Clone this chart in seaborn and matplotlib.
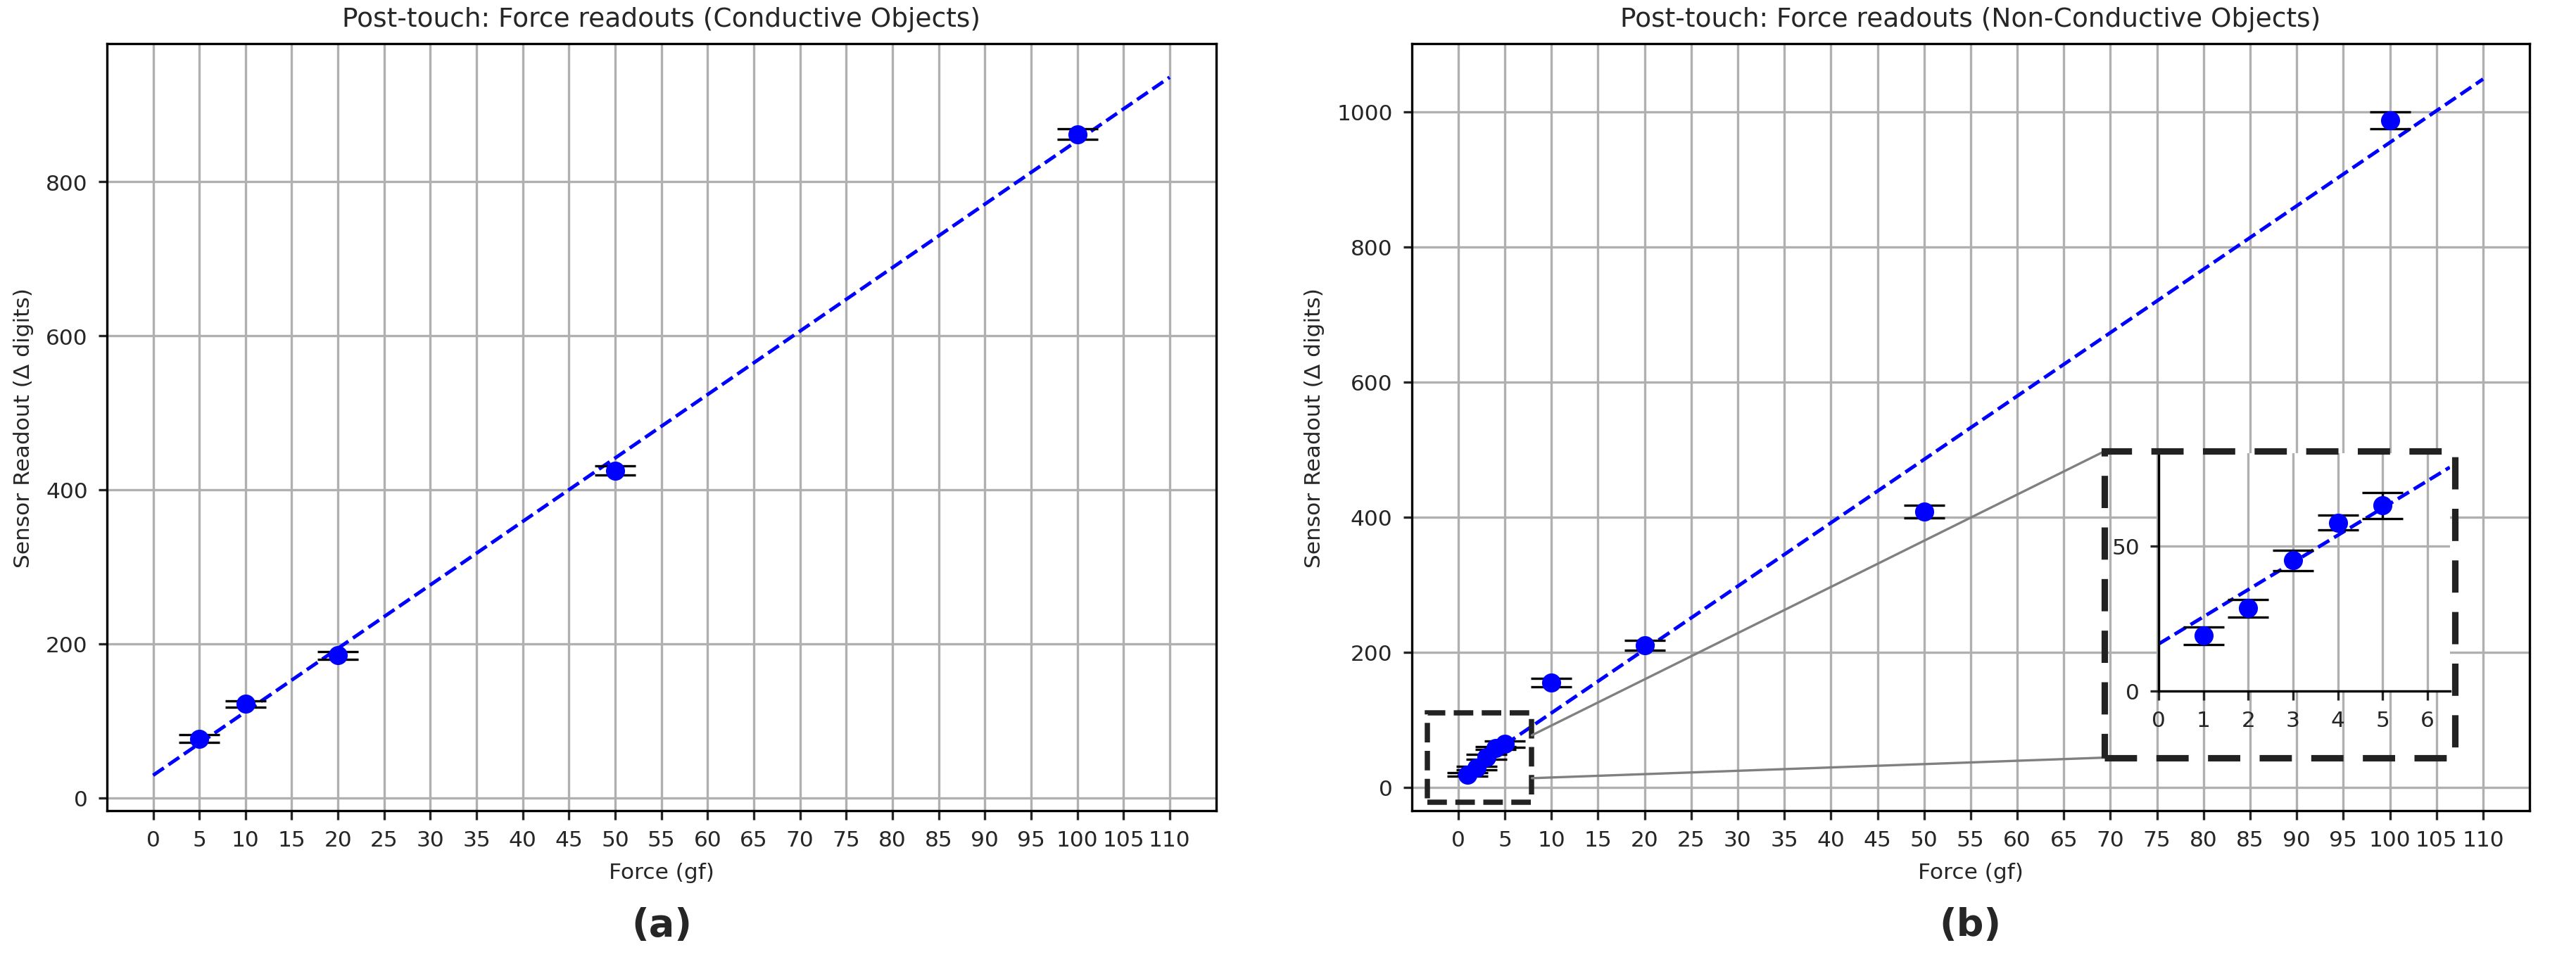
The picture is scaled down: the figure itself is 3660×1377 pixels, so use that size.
import matplotlib
matplotlib.use("Agg")
import matplotlib.pyplot as plt
import matplotlib.patches as mpatches
import matplotlib.lines as mlines
import seaborn as sns
import numpy as np
import pandas as pd

# conductive objects
force_a = [5, 10, 20, 50, 100]
readout_a = [77, 122, 185, 425, 862]
err_a = [5, 4, 5, 6, 7]

# non-conductive objects
force_b = [1, 2, 3, 4, 5, 10, 20, 50, 100]
readout_b = [19, 28.5, 45, 58, 64, 155, 210, 408, 987]
err_b = [3, 3, 3.5, 2.5, 4.5, 6, 7, 9, 12]

sns.set_style("whitegrid", {"axes.edgecolor": "black", "grid.color": "#b0b0b0",
                            "xtick.bottom": True, "ytick.left": True})
plt.rcParams["font.family"] = ["DejaVu Sans"]
plt.rcParams["font.size"] = 8

fig = plt.figure(figsize=(12.2, 4.593), dpi=300)
ax_a = fig.add_axes([0.0415, 0.163, 0.4305, 0.791])
ax_b = fig.add_axes([0.548, 0.163, 0.434, 0.791])


def draw_panel(ax, force, readout, err, title):
    ax.errorbar(force, readout, yerr=err, fmt="o", color="blue", ms=5.5,
                ecolor="black", elinewidth=0.8, capsize=7, capthick=0.8, zorder=3)
    k, b = np.polyfit(force, readout, 1)
    fx = np.array([0, 110])
    sns.lineplot(x=fx, y=k * fx + b, ax=ax, color="blue", linestyle="--", lw=1.2)
    ax.set_xticks(range(0, 111, 5))
    ax.set_xlim(-5, 115)
    ax.set_title(title, fontsize=9)
    ax.set_xlabel("Force (gf)", fontsize=7.5)
    ax.set_ylabel("Sensor Readout (Δ digits)", fontsize=7.5)
    ax.tick_params(labelsize=7.5, length=3, width=0.8)
    for s in ax.spines.values():
        s.set_linewidth(0.8)
    return k, b


draw_panel(ax_a, force_a, readout_a, err_a, "Post-touch: Force readouts (Conductive Objects)")
ax_a.set_ylim(-17, 979)
ax_a.set_yticks(range(0, 801, 200))

k, b = draw_panel(ax_b, force_b, readout_b, err_b, "Post-touch: Force readouts (Non-Conductive Objects)")
ax_b.set_ylim(-35, 1100)
ax_b.set_yticks(range(0, 1001, 200))

# zoom box in main right panel
ax_b.add_patch(mpatches.Rectangle((-3.3, -22), 11.2, 132, fill=False, ls="--",
                                  lw=1.8, ec="#222222", zorder=4))

# inset
ax_in = fig.add_axes([0.838, 0.287, 0.113, 0.245])
ax_in.errorbar(force_b[:5], readout_b[:5], yerr=err_b[:5], fmt="o", color="blue", ms=5.5,
               ecolor="black", elinewidth=0.8, capsize=7, capthick=0.8, zorder=3)
ix = np.array([0, 6.5])
sns.lineplot(x=ix, y=k * ix + b, ax=ax_in, color="blue", linestyle="--", lw=1.2)
ax_in.set_xlim(0, 6.5)
ax_in.set_ylim(0, 82)
ax_in.set_xticks(range(0, 7))
ax_in.set_yticks([0, 50])
ax_in.tick_params(labelsize=7.5, length=3, width=0.8)
ax_in.spines["top"].set_visible(False)
ax_in.spines["right"].set_visible(False)

fig.patches.append(mpatches.Rectangle((0.817, 0.218), 0.136, 0.316, fill=False, ls=(0, (5, 3)),
                                      lw=2.2, ec="#222222", transform=fig.transFigure, zorder=10))
for y0, y1 in [(77, 0.534), (13.5, 0.218)]:
    x0, yy = fig.transFigure.inverted().transform(ax_b.transData.transform((7.9, y0)))
    fig.lines.append(mlines.Line2D([x0, 0.817], [yy, y1], color="gray", lw=0.8,
                                   transform=fig.transFigure))

fig.text(0.257, 0.035, "(a)", fontsize=13, fontweight="bold", ha="center")
fig.text(0.765, 0.035, "(b)", fontsize=13, fontweight="bold", ha="center")

fig.savefig("out.png", dpi=300)
